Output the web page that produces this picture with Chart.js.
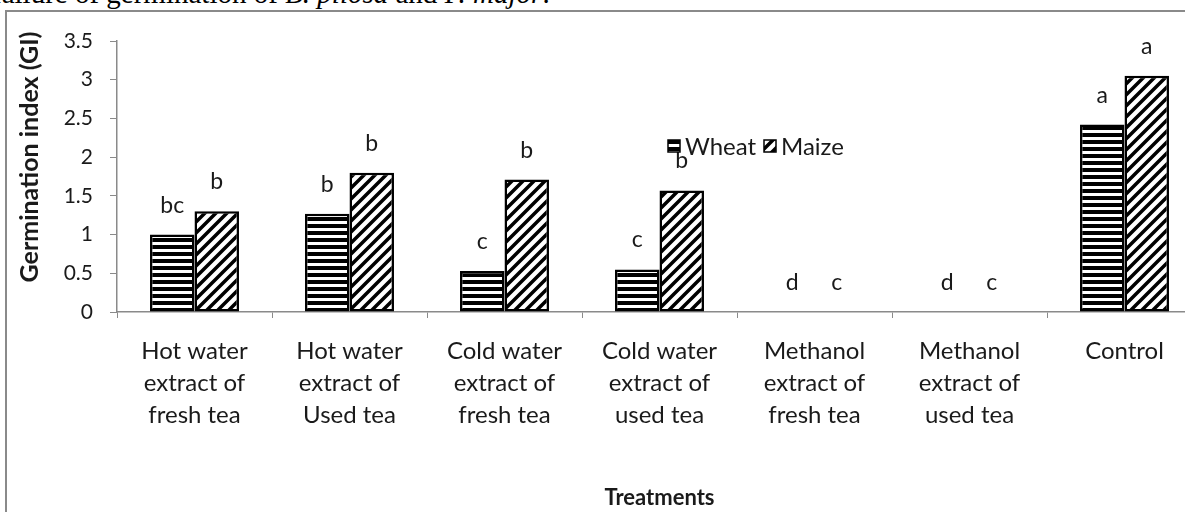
<!DOCTYPE html>
<html>
<head>
<meta charset="utf-8">
<script src="https://cdn.jsdelivr.net/npm/chart.js@4.4.1/dist/chart.umd.min.js"></script>
<style>
  html, body { margin: 0; padding: 0; background: #fff; width: 1185px; height: 512px; overflow: hidden; }
  #caption { position: absolute; left: -8px; top: -23px; font: 29px "Liberation Serif", "Times New Roman", serif; color: #000; white-space: nowrap; }
  #frame { position: absolute; left: 5px; top: 10px; width: 1300px; height: 600px; border: 2.5px solid #8a8a8a; box-sizing: border-box; }
  #wrap { position: absolute; left: 0; top: 0; width: 1210px; height: 512px; }
</style>
</head>
<body>
<div id="caption">failure of germination of <i>B. pilosa</i> and <i>P. major</i>.</div>
<div id="frame"></div>
<div id="wrap"><canvas id="chart" width="1210" height="512"></canvas></div>
<script>
// treatments on the x axis
const categories = [
    ['Hot water', 'extract of', 'fresh tea'],
    ['Hot water', 'extract of', 'Used tea'],
    ['Cold water', 'extract of', 'fresh tea'],
    ['Cold water', 'extract of', 'used tea'],
    ['Methanol', 'extract of', 'fresh tea'],
    ['Methanol', 'extract of', 'used tea'],
    'Control'
];
// germination index
const wheat = [1.0, 1.27, 0.53, 0.55, 0, 0, 2.42];
const maize = [1.30, 1.80, 1.71, 1.57, 0, 0, 3.05];
// significance letters above each bar
const wheatLetters = ['bc', 'b', 'c', 'c', 'd', 'd', 'a'];
const maizeLetters = ['b', 'b', 'b', 'b', 'c', 'c', 'a'];
const yTicks = [0, 0.5, 1, 1.5, 2, 2.5, 3, 3.5];

const FONT = 'Lato, "Open Sans", sans-serif';
const TEXT = '#1a1a1a';
const AXIS = '#8a8a8a';

// horizontal stripes for wheat
function stripes() {
    const c = document.createElement('canvas');
    c.width = 8; c.height = 7;
    const g = c.getContext('2d');
    g.fillStyle = '#fff';
    g.fillRect(0, 0, 8, 7);
    g.fillStyle = '#000';
    g.fillRect(0, 0, 8, 4);
    return g.createPattern(c, 'repeat');
}

// diagonal hatch for maize
function hatch() {
    const s = 11;
    const c = document.createElement('canvas');
    c.width = s; c.height = s;
    const g = c.getContext('2d');
    g.fillStyle = '#fff';
    g.fillRect(0, 0, s, s);
    g.strokeStyle = '#000';
    g.lineWidth = 3.5;
    g.beginPath();
    g.moveTo(-1, s + 1); g.lineTo(s + 1, -1);
    g.moveTo(-2, 2); g.lineTo(2, -2);
    g.moveTo(s - 2, s + 2); g.lineTo(s + 2, s - 2);
    g.stroke();
    return g.createPattern(c, 'repeat');
}

const wheatFill = stripes();
const maizeFill = hatch();

// letters above the bars, legend, and the rotated y title
const extras = {
    id: 'extras',
    afterDatasetsDraw(chart) {
        const ctx = chart.ctx;
        const y = chart.scales.y;
        const letters = [wheatLetters, maizeLetters];
        ctx.save();
        ctx.font = '23px ' + FONT;
        ctx.fillStyle = TEXT;
        ctx.textAlign = 'center';
        ctx.textBaseline = 'alphabetic';
        chart.data.datasets.forEach((ds, i) => {
            chart.getDatasetMeta(i).data.forEach((bar, j) => {
                ctx.fillText(letters[i][j], bar.x, y.getPixelForValue(ds.data[j]) - 22);
            });
        });

        // legend inside the plot
        const items = [['Wheat', wheatFill, 668], ['Maize', maizeFill, 764]];
        ctx.textAlign = 'left';
        ctx.textBaseline = 'middle';
        ctx.font = '24px ' + FONT;
        items.forEach(([label, fill, x]) => {
            ctx.fillStyle = fill;
            ctx.fillRect(x, 140, 12, 12);
            ctx.strokeStyle = '#000';
            ctx.lineWidth = 1.5;
            ctx.strokeRect(x, 140, 12, 12);
            ctx.fillStyle = TEXT;
            ctx.fillText(label, x + 17, 147);
        });

        // y axis title
        ctx.translate(30, 157);
        ctx.rotate(-Math.PI / 2);
        ctx.textAlign = 'center';
        ctx.font = 'bold 25px ' + FONT;
        ctx.fillText('Germination index (GI)', 0, 0);
        ctx.restore();
    }
};

new Chart(document.getElementById('chart'), {
    type: 'bar',
    data: {
        labels: categories,
        datasets: [
            {
                label: 'Wheat',
                data: wheat,
                backgroundColor: wheatFill,
                borderColor: '#000',
                borderWidth: c => (c.raw === 0 ? 0 : 2.5),
                borderSkipped: false
            },
            {
                label: 'Maize',
                data: maize,
                backgroundColor: maizeFill,
                borderColor: '#000',
                borderWidth: c => (c.raw === 0 ? 0 : 2.5),
                borderSkipped: false
            }
        ]
    },
    options: {
        responsive: false,
        animation: false,
        devicePixelRatio: 1,
        categoryPercentage: 0.574,
        barPercentage: 1.0,
        layout: { padding: { top: 41, right: 8, left: 0, bottom: 0 } },
        plugins: {
            legend: { display: false },
            tooltip: { enabled: false }
        },
        scales: {
            x: {
                afterFit: s => { s.height = 200; },
                grid: { drawOnChartArea: false, drawTicks: true, tickLength: 6, color: AXIS, offset: true },
                border: { color: AXIS, width: 1.5 },
                ticks: {
                    color: TEXT,
                    padding: 17,
                    maxRotation: 0,
                    autoSkip: false,
                    font: { family: FONT, size: 24, lineHeight: 1.333 }
                },
                title: {
                    display: true,
                    text: 'Treatments',
                    color: TEXT,
                    padding: { top: 0, bottom: 1 },
                    font: { family: FONT, size: 22, weight: 'bold' }
                }
            },
            y: {
                min: 0,
                max: 3.5,
                afterFit: s => { s.width = 117; },
                afterBuildTicks: s => { s.ticks = yTicks.map(v => ({ value: v })); },
                grid: { drawOnChartArea: false, drawTicks: true, tickLength: 7, color: AXIS },
                border: { color: AXIS, width: 1.5 },
                ticks: {
                    color: TEXT,
                    padding: 17,
                    callback: v => String(v),
                    font: { family: FONT, size: 21 }
                }
            }
        }
    },
    plugins: [extras]
});
</script>
</body>
</html>
